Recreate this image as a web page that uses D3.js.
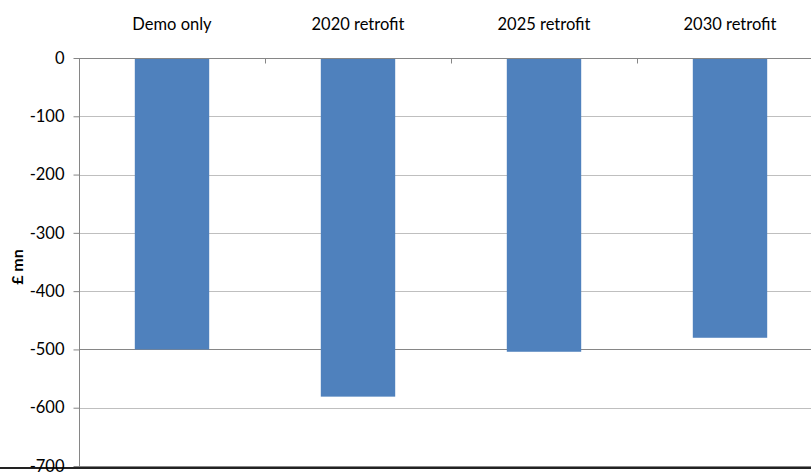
<!DOCTYPE html>
<html>
<head>
<meta charset="utf-8">
<script src="https://cdn.jsdelivr.net/npm/d3@7"></script>
<style>
  body { margin: 0; background: #fff; }
  text { font-family: Lato, "Open Sans", sans-serif; fill: #000; }
</style>
</head>
<body>
<svg id="chart" width="811" height="473"></svg>
<script>
const categories = ["Demo only", "2020 retrofit", "2025 retrofit", "2030 retrofit"]
const values = [-500, -581, -504, -480]
const yTicks = [0, -100, -200, -300, -400, -500, -600, -700]

const svg = d3.select("#chart")
const plotLeft = 79, plotRight = 823, plotTop = 58, plotBottom = 466

const x = d3.scaleBand().domain(categories).range([plotLeft, plotRight]).paddingInner(0.6).paddingOuter(0.3)
const xb = d3.scaleBand().domain(categories).range([plotLeft, plotRight])
const y = d3.scaleLinear().domain([-700, 0]).range([plotBottom, plotTop])

// gridlines
svg.append("g")
    .selectAll("line")
    .data(yTicks.filter(d => d !== 0 && d !== -700))
    .join("line")
    .attr("x1", plotLeft).attr("x2", 811)
    .attr("y1", d => Math.round(y(d)) + 0.5)
    .attr("y2", d => Math.round(y(d)) + 0.5)
    .style("stroke", d => d === -500 ? "#868686" : "#bfbfbf")
    .style("stroke-width", 1)

// bars
svg.append("g")
    .selectAll("rect")
    .data(values)
    .join("rect")
    .attr("x", (d, i) => x(categories[i]))
    .attr("width", x.bandwidth())
    .attr("y", y(0))
    .attr("height", d => y(d) - y(0))
    .style("fill", "#4f81bd")

// bottom line
svg.append("line")
    .attr("x1", plotLeft).attr("x2", 811)
    .attr("y1", plotBottom + 0.5).attr("y2", plotBottom + 0.5)
    .style("stroke", "#868686")
svg.append("line")
    .attr("x1", 0).attr("x2", 811)
    .attr("y1", 468).attr("y2", 468)
    .style("stroke", "#222")
    .style("stroke-width", 2)

// category axis at zero (ticks pointing down, labels above)
const xAxis = svg.append("g")
    .attr("transform", `translate(0, ${Math.round(y(0)) + 0.5})`)
xAxis.append("line")
    .attr("x1", plotLeft).attr("x2", 811)
    .style("stroke", "#868686")
xAxis.selectAll("line.tick")
    .data(categories.slice(1))
    .join("line")
    .attr("class", "tick")
    .attr("x1", d => Math.round(xb(d)) + 0.5)
    .attr("x2", d => Math.round(xb(d)) + 0.5)
    .attr("y1", 0).attr("y2", 5)
    .style("stroke", "#868686")
svg.append("g")
    .selectAll("text")
    .data(categories)
    .join("text")
    .attr("x", d => xb(d) + xb.bandwidth() / 2)
    .attr("y", 30)
    .attr("text-anchor", "middle")
    .style("font-size", "16.5px")
    .text(d => d)

// value axis
svg.append("g")
    .attr("transform", `translate(${plotLeft + 0.5}, 0)`)
    .call(d3.axisLeft(y).tickValues(yTicks).tickSize(6).tickPadding(9).tickFormat(d => String(d)))
    .call(g => g.select(".domain").attr("d", `M0,${plotTop}V${plotBottom}`).style("stroke", "#868686"))
    .call(g => g.selectAll(".tick line").style("stroke", "#868686"))
    .call(g => g.selectAll(".tick text")
        .style("font-size", "16.5px")
        .style("font-family", "Lato, sans-serif")
        .style("fill", "#000"))

svg.append("text")
    .attr("transform", `translate(23, ${(plotTop + plotBottom) / 2 + 5}) rotate(-90)`)
    .attr("text-anchor", "middle")
    .style("font-size", "16px")
    .style("font-weight", "bold")
    .text("£ mn")
</script>
</body>
</html>
